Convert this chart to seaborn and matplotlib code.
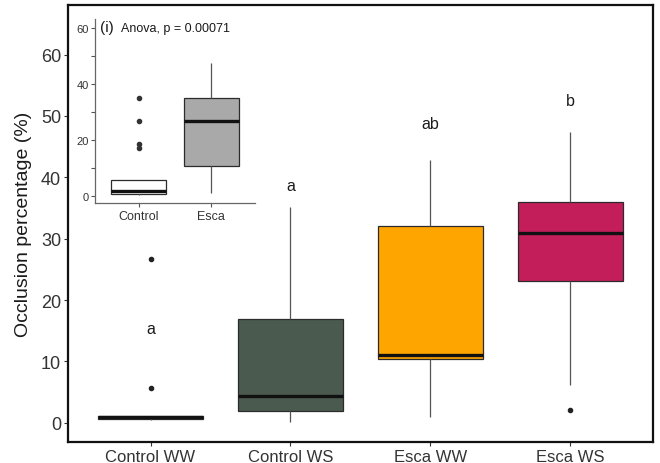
import matplotlib
matplotlib.use("Agg")
import matplotlib.pyplot as plt
import seaborn as sns
import pandas as pd

# Occlusion percentage per treatment group (individual observations)
groups = ["Control WW", "Control WS", "Esca WW", "Esca WS"]
control_ww = [0.4, 0.5, 0.6, 0.8, 0.9, 1.0, 1.1, 5.7, 26.7]
control_ws = [0.2, 1.0, 1.96, 3.0, 4.4, 9.0, 16.9, 18.4, 35.1]
esca_ww = [0.9, 5.0, 10.4, 10.8, 11.1, 20.0, 32.0, 38.0, 42.8]
esca_ws = [2.1, 6.1, 23.1, 27.0, 30.9, 33.0, 35.9, 41.0, 47.4]
group_colors = ["#234f4c", "#4b5a4f", "#ffa500", "#c41e5a"]

# Tukey letters and their heights
letters = ["a", "a", "ab", "b"]
letter_y = [14.7, 37.9, 48.0, 51.8]

# Pooled data for the inset (disease status only)
inset_groups = ["Control", "Esca"]
inset_control = [0.2, 0.4, 0.5, 0.6, 0.6, 0.8, 0.9, 1.0, 1.6, 2.0, 3.0,
                 4.4, 5.6, 17.2, 18.4, 26.7, 35.0]
inset_esca = [1.0, 6.1, 10.5, 11.1, 26.6, 31.0, 35.0, 42.8, 47.5]
inset_colors = ["#ffffff", "#a9a9a9"]
anova_text = "Anova, p = 0.00071"

sns.set_style("white")
plt.rcParams["font.family"] = ["Liberation Sans", "DejaVu Sans"]

df = pd.DataFrame({
    "group": sum([[g] * len(v) for g, v in
                  zip(groups, [control_ww, control_ws, esca_ww, esca_ws])], []),
    "value": control_ww + control_ws + esca_ww + esca_ws,
})
df_in = pd.DataFrame({
    "group": ["Control"] * len(inset_control) + ["Esca"] * len(inset_esca),
    "value": inset_control + inset_esca,
})

fig = plt.figure(figsize=(6.6, 4.64), dpi=100)
ax = fig.add_axes([0.103, 0.0453, 0.886, 0.942])

box_kw = dict(
    width=0.75, saturation=1, linecolor="#2b2b2b", linewidth=0.9,
    showcaps=False,
    medianprops=dict(color="#111111", linewidth=2.4),
    whiskerprops=dict(color="#555555", linewidth=0.9),
    flierprops=dict(marker="o", markerfacecolor="#222222",
                    markeredgecolor="#222222", markersize=3),
    legend=False,
)

sns.boxplot(data=df, x="group", y="value", hue="group", order=groups,
            hue_order=groups, palette=group_colors, ax=ax, **box_kw)

for i, (lab, yv) in enumerate(zip(letters, letter_y)):
    ax.text(i, yv, lab, ha="center", va="baseline", fontsize=11.5,
            color="#1a1a1a")

ax.set_xlim(-0.59, 3.59)
ax.set_ylim(-3.13, 68.1)
ax.set_yticks([0, 10, 20, 30, 40, 50, 60])
ax.set_xlabel("")
ax.set_ylabel("Occlusion percentage (%)", fontsize=14, color="#1a1a1a",
              labelpad=6)
ax.tick_params(axis="y", labelsize=13, labelcolor="#333333", length=3,
               width=0.8, color="#333333", left=True, pad=2)
ax.tick_params(axis="x", labelsize=12, labelcolor="#333333", length=3,
               width=0.8, color="#333333", bottom=True, pad=2)
for s in ax.spines.values():
    s.set_visible(True)
    s.set_color("#111111")
    s.set_linewidth(1.6)

# Inset: pooled comparison Control vs Esca
ax_in = fig.add_axes([0.144, 0.5597, 0.2424, 0.397])
in_kw = dict(box_kw)
in_kw["flierprops"] = dict(marker="o", markerfacecolor="#333333",
                           markeredgecolor="#333333", markersize=3)
sns.boxplot(data=df_in, x="group", y="value", hue="group", order=inset_groups,
            hue_order=inset_groups, palette=inset_colors, ax=ax_in, **in_kw)
ax_in.set_xlim(-0.6, 1.6)
ax_in.set_ylim(-2.7, 63)
ax_in.set_yticks([0, 10, 20, 30, 40, 50, 60])
ax_in.set_yticklabels(["0", "", "20", "", "40", "", "60"])
ax_in.set_xlabel("")
ax_in.set_ylabel("")
ax_in.tick_params(axis="y", labelsize=8, labelcolor="#333333", length=3,
                  width=0.8, color="#555555", left=True, pad=1.5)
ax_in.tick_params(axis="x", labelsize=9, labelcolor="#333333", length=3,
                  width=0.8, color="#555555", bottom=True, pad=1.5)
for side in ["top", "right"]:
    ax_in.spines[side].set_visible(False)
for side in ["left", "bottom"]:
    ax_in.spines[side].set_visible(True)
    ax_in.spines[side].set_color("#666666")
    ax_in.spines[side].set_linewidth(0.9)
ax_in.patch.set_alpha(0)

ax_in.text(0.031, 0.9365, "(i)", transform=ax_in.transAxes, fontsize=11,
           ha="left", va="baseline", color="#1a1a1a")
ax_in.text(0.161, 0.9365, anova_text, transform=ax_in.transAxes, fontsize=9,
           ha="left", va="baseline", color="#1a1a1a")

fig.savefig("out.png", dpi=100)
